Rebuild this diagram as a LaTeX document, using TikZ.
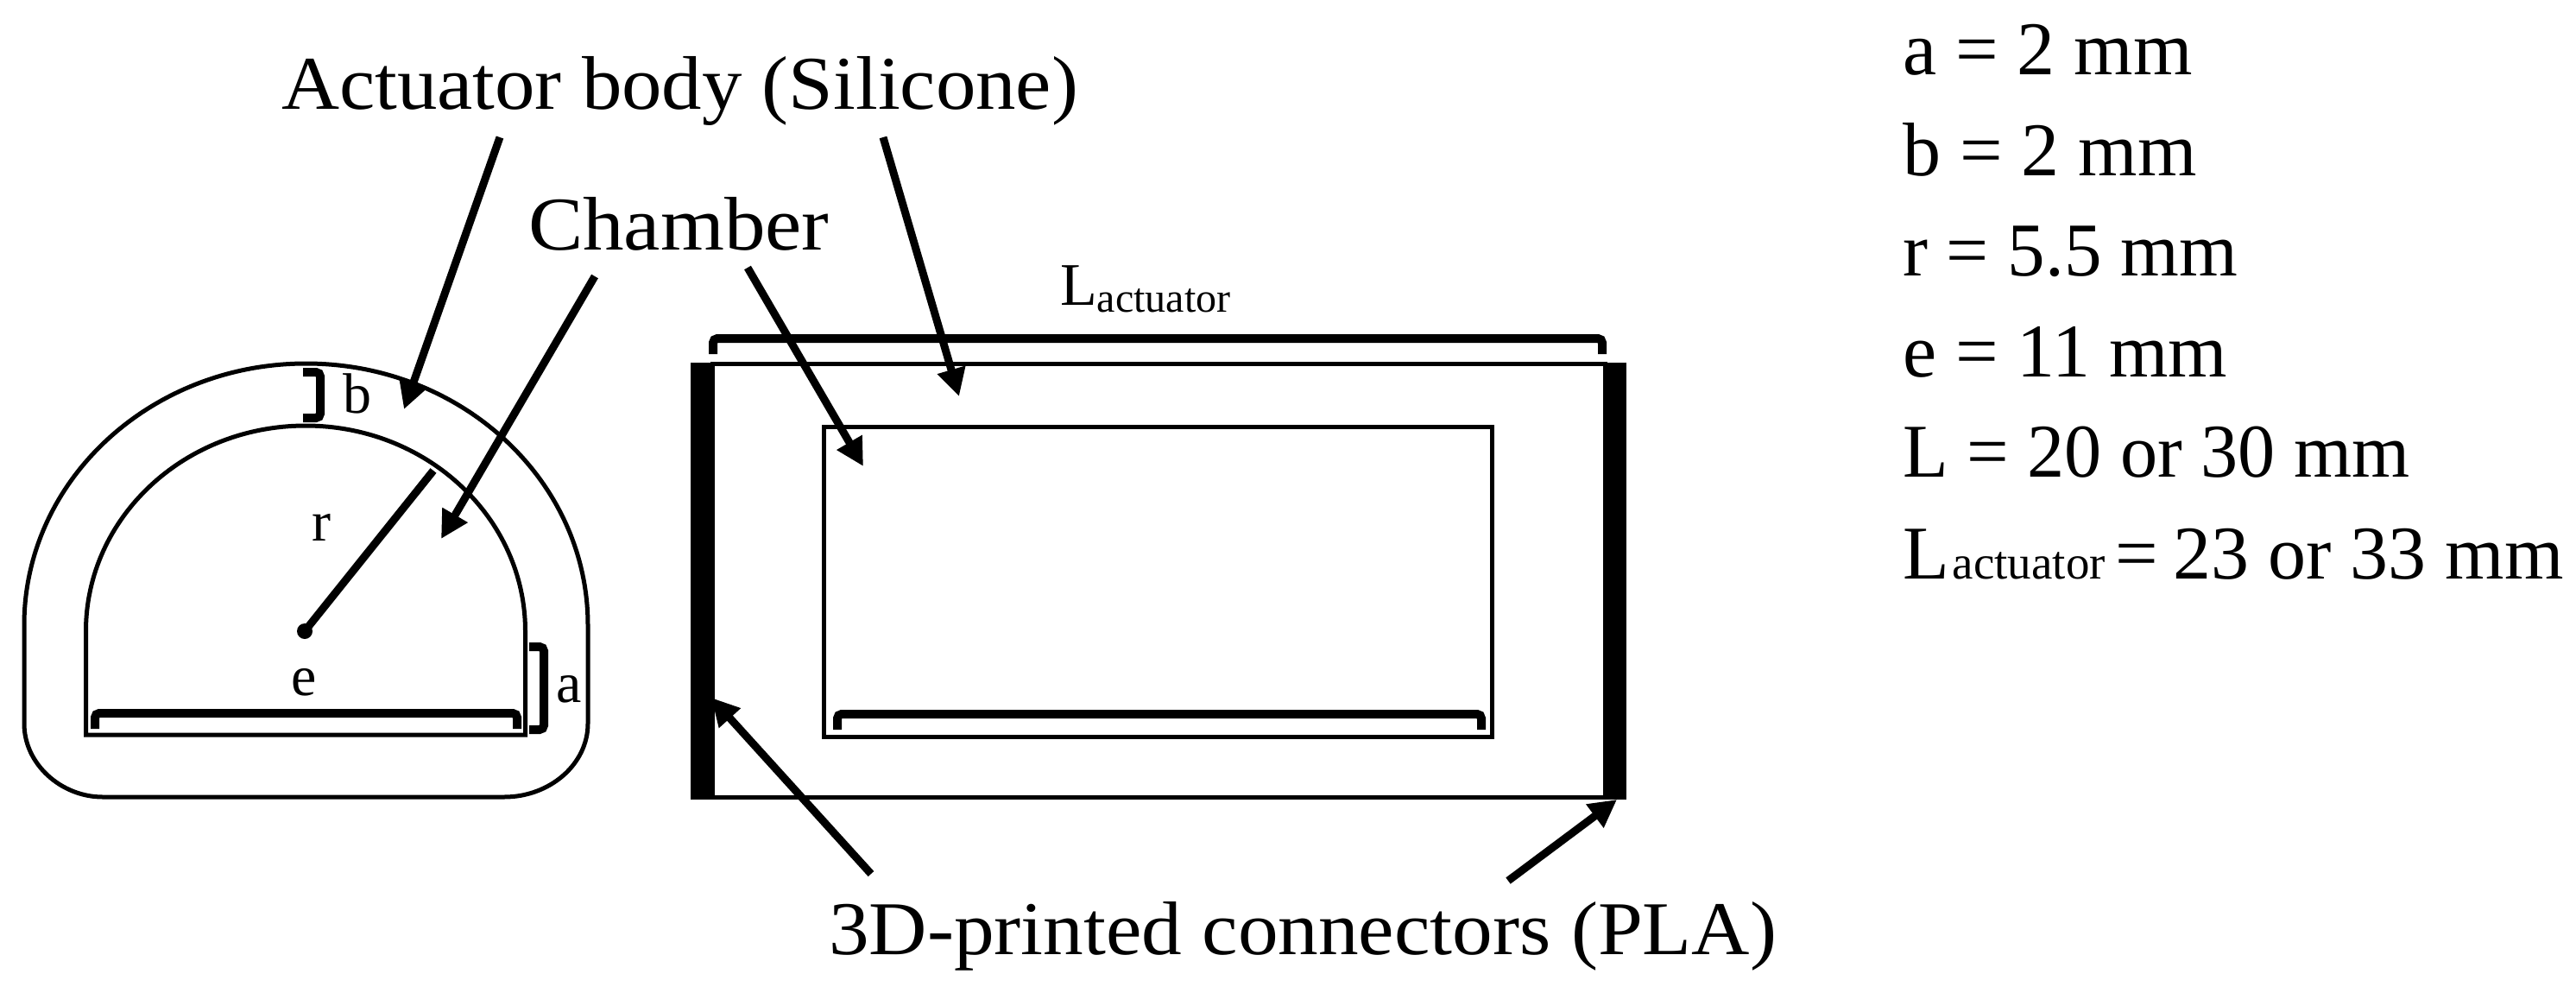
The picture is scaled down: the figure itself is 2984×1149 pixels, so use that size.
\documentclass[tikz,border=0pt]{standalone}
\usepackage{fontspec}
\setmainfont{Liberation Serif}
\usetikzlibrary{arrows.meta}
\tikzset{
  x=1pt,y=-1pt,
  thinline/.style={draw=black,line width=5pt},
  brace/.style={draw=black,line width=10pt,rounded corners=5pt},
  callout/.style={draw=black,line width=9pt,-{Triangle[length=32pt,width=32pt]}},
  big/.style={anchor=base west,inner sep=0pt,outer sep=0pt,font=\fontsize{88}{100}\selectfont},
  mid/.style={anchor=base west,inner sep=0pt,outer sep=0pt,font=\fontsize{70}{80}\selectfont},
  small/.style={anchor=base west,inner sep=0pt,outer sep=0pt,font=\fontsize{66}{70}\selectfont},
}
\begin{document}
\begin{tikzpicture}
\useasboundingbox (0,0) rectangle (2984,1149);
\fill[white] (0,0) rectangle (2984,1149);
% cross section
\draw[thinline] (28,724) arc[start angle=180,end angle=0,x radius=326.5,y radius=-303] -- (681,838)
  .. controls (681,885) and (637,923) .. (584,923) -- (119,923)
  .. controls (71,923) and (28,885) .. (28,838) -- cycle;
\draw[thinline] (99.5,731) arc[start angle=180,end angle=0,x radius=254.5,y radius=-238] -- (608.5,851) -- (99.5,851) -- cycle;
\coordinate (eL) at (110,844); \coordinate (eR) at (599,844);
\draw[brace] (eL) -- (110,826) -- (599,826) -- (eR);
\draw[brace] (613,749) -- (630,749) -- (630,845) -- (613,845);
\draw[brace] (351,431) -- (371,431) -- (371,484) -- (351,484);
\fill (353,731) circle (9);
\coordinate (rdot) at (353,731); \coordinate (rend) at (502,545);
\draw[draw=black,line width=9pt] (rdot) -- (rend);
% side view
\draw[thinline] (825,421) rectangle (1859,923);
\fill (800,420) rectangle (825,926);
\fill (1858,420) rectangle (1884,926);
\draw[thinline] (954.5,494) rectangle (1728,853);
\draw[brace] (826,410) -- (826,392) -- (1856,392) -- (1856,410);
\draw[brace] (970,845) -- (970,827) -- (1716,827) -- (1716,845);
% labels
\node[big] (body) at (326,126) {\scalebox{1.055}[1]{Actuator body (Silicone)}};
\node[big] (chamber) at (612,289) {\scalebox{1.08}[1]{Chamber}};
\node[big] (conn) at (960,1105) {\scalebox{1.06}[1]{3D-printed connectors (PLA)}};
\node[mid] (lact) at (1228,353) {L\raisebox{-8pt}{\fontsize{48}{50}\selectfont actuator}};
\node[small] (b) at (397,478) {b};
\node[small] (r) at (361,626) {r};
\node[small] (e) at (337,805) {e};
\node[small] (a) at (644,813) {a};
% arrows
\coordinate (t1) at (468,474); \coordinate (t2) at (511,624);
\coordinate (t3) at (1111,459); \coordinate (t4) at (1000,540);
\coordinate (t5) at (824,808); \coordinate (t6) at (1873,926);
\coordinate (s1) at (579,159); \coordinate (s2) at (689,320);
\coordinate (s3) at (1023,159); \coordinate (s4) at (866,310);
\coordinate (s5) at (1009,1012); \coordinate (s6) at (1747,1020);
\draw[callout] (s1) -- (t1);
\draw[callout] (s2) -- (t2);
\draw[callout] (s3) -- (t3);
\draw[callout] (s4) -- (t4);
\draw[callout] (s5) -- (t5);
\draw[callout] (s6) -- (t6);
% list
\node[big] (l1) at (2204,86) {a = 2 mm};
\node[big] (l2) at (2204,203) {b = 2 mm};
\node[big] (l3) at (2204,319) {\scalebox{.99}[1]{r = 5.5 mm}};
\node[big] (l4) at (2204,436) {e = 11 mm};
\node[big] (l5) at (2204,552) {\scalebox{.98}[1]{L = 20 or 30 mm}};
\node[big] (l6) at (2204,670) {L\hspace{4pt}{\fontsize{55}{60}\selectfont actuator}\hspace{12pt}=\hspace{17pt}23 or 33 mm};
\end{tikzpicture}
\end{document}
